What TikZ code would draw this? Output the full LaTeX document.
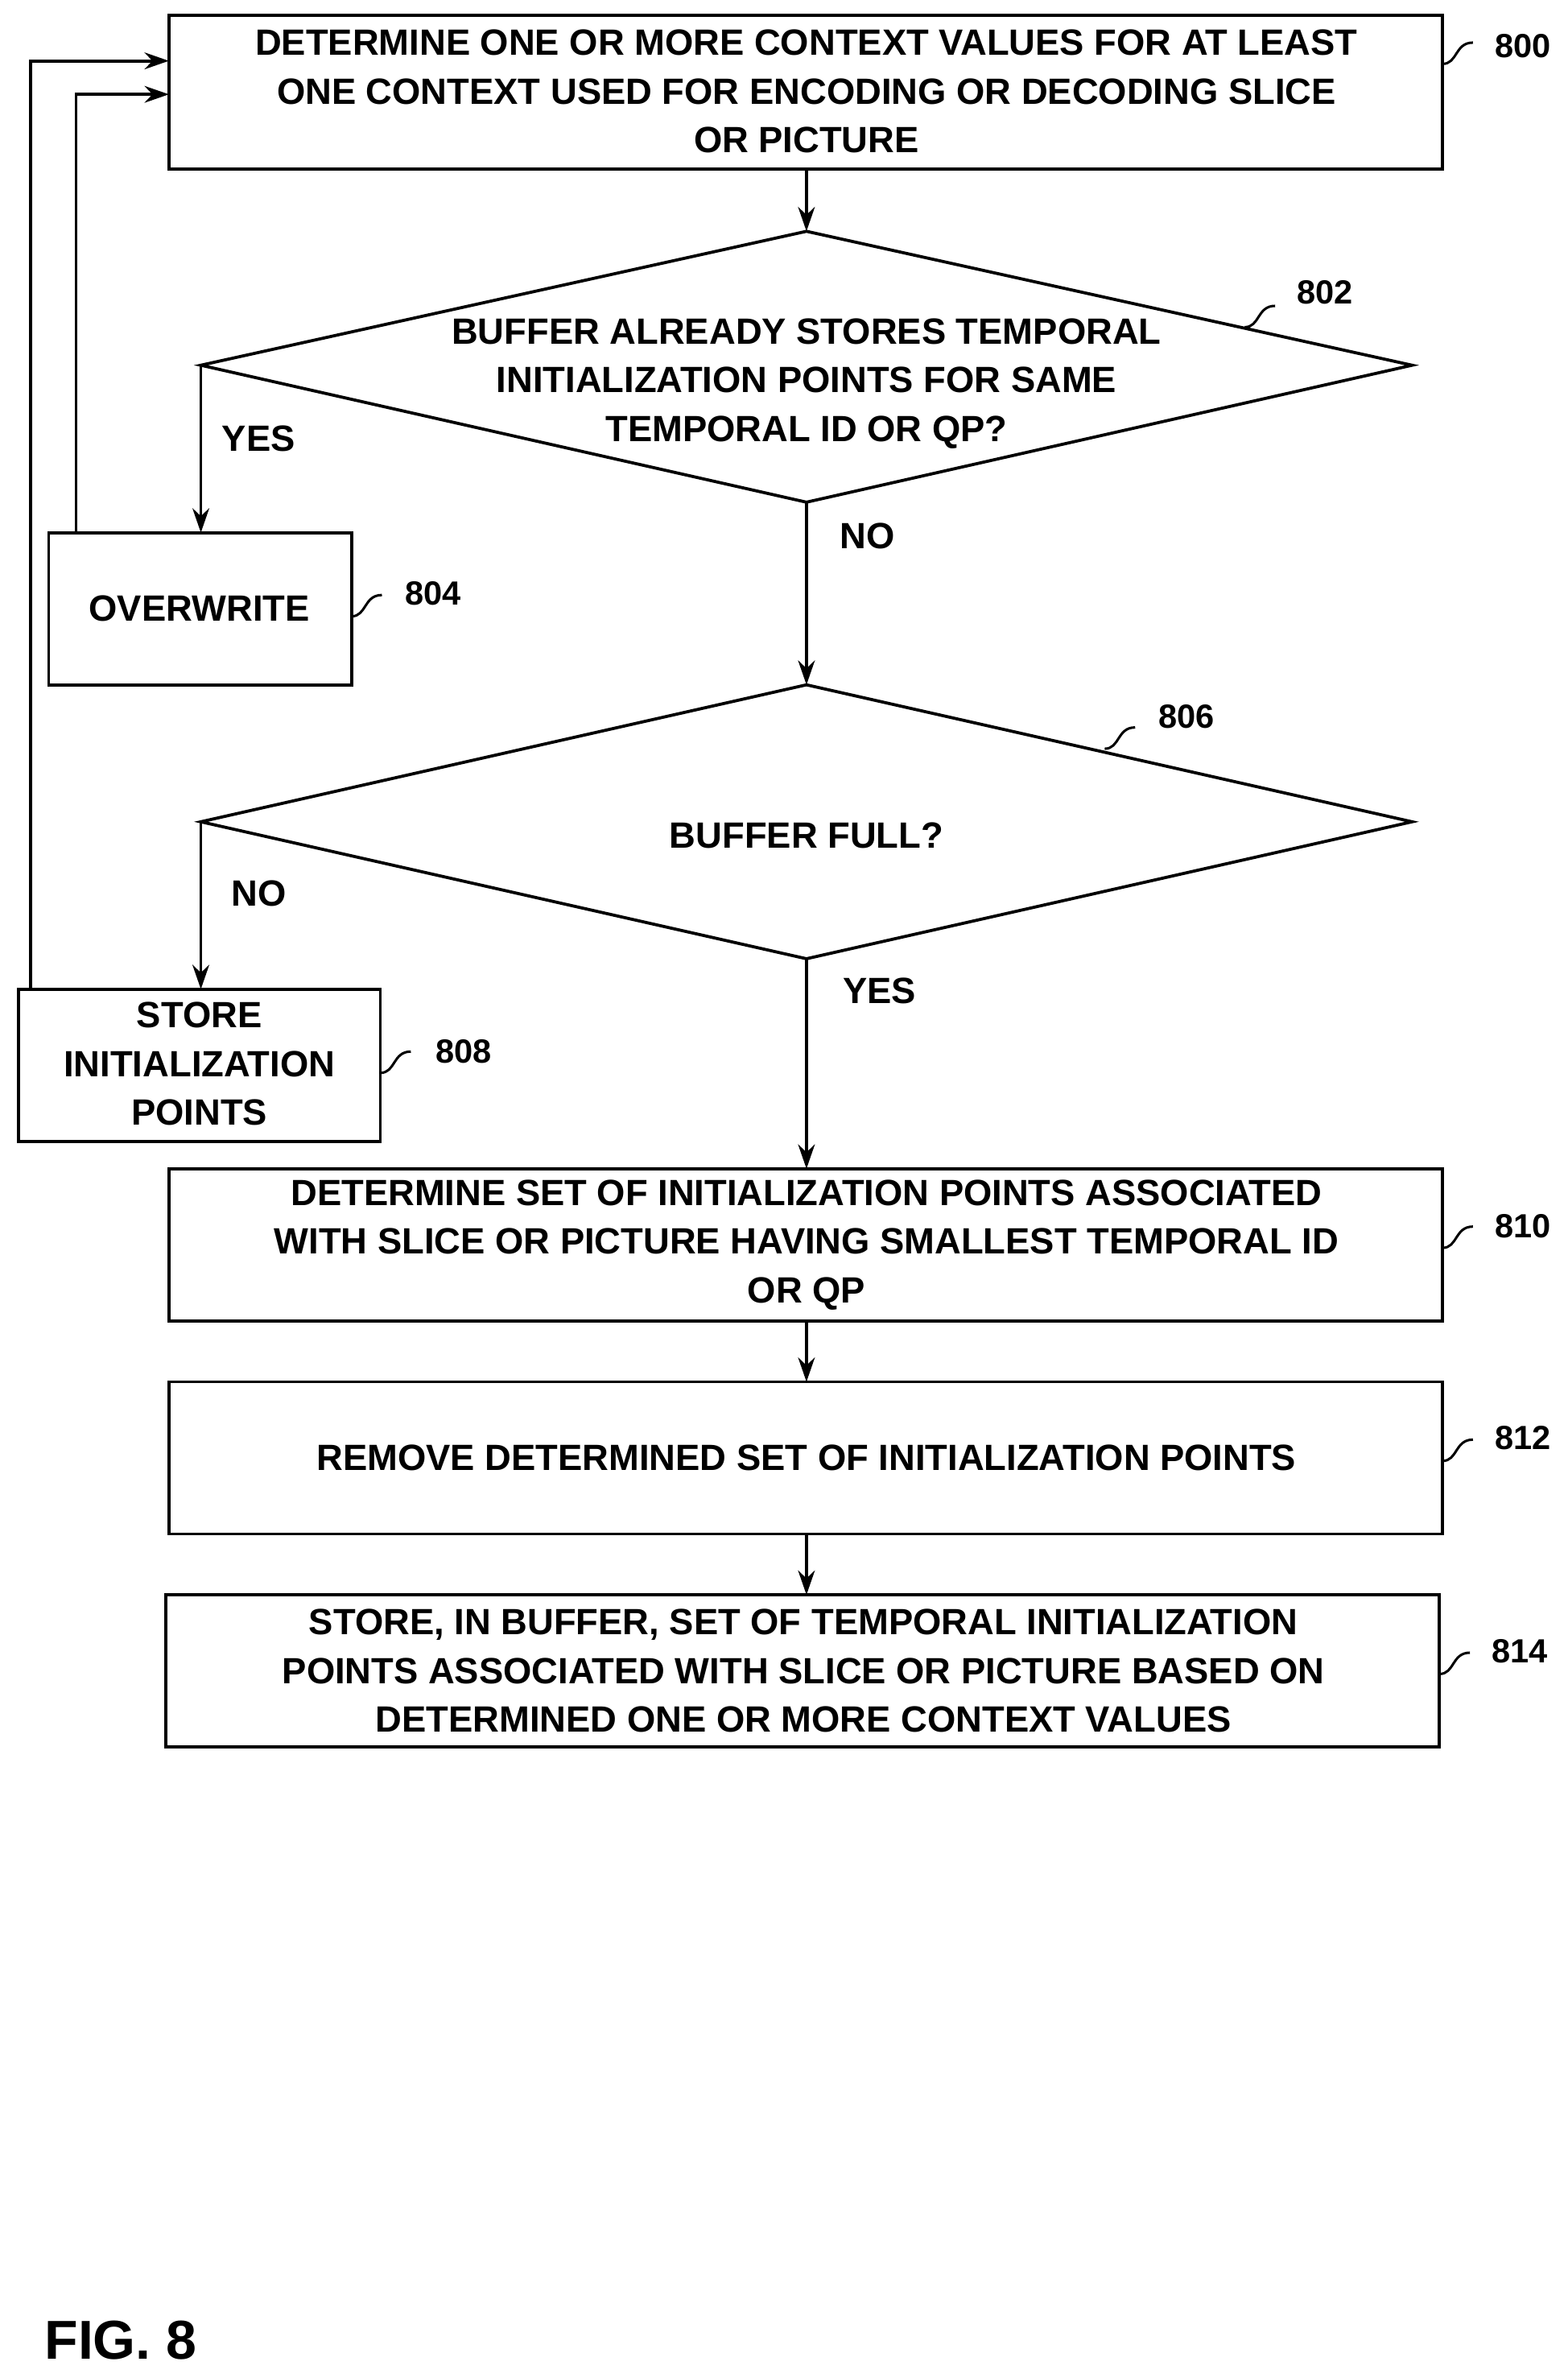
\documentclass[tikz,border=0pt]{standalone}
\usepackage{fontspec}
\setmainfont{Liberation Sans}
\usetikzlibrary{arrows.meta}
\begin{document}
\begin{tikzpicture}[x=1pt,y=-1pt,
  line width=2pt,
  txt/.style={font=\fontsize{24}{32}\selectfont\bfseries,align=center},
  lbl/.style={font=\fontsize{22}{26}\selectfont\bfseries,anchor=west},
  arr/.style={-{Stealth[length=16pt,width=11pt]}}]
\useasboundingbox (0,0) rectangle (1030,1560);
\tikzset{sq/.pic={\draw[line width=1.6pt] (0,0) .. controls (10,0) and (8,-14) .. (20,-14);}}
% boxes
\draw (111,10) rectangle (948,111);
\node[txt] (t800) at (530,60) {DETERMINE ONE OR MORE CONTEXT VALUES FOR AT LEAST\\ONE CONTEXT USED FOR ENCODING OR DECODING SLICE\\OR PICTURE};
\draw (530,152) coordinate (d1t) -- (928,240) coordinate (d1r) -- (530,330) coordinate (d1b) -- (132,240) coordinate (d1l) -- cycle;
\node[txt] (t802) at (530,252) {BUFFER ALREADY STORES TEMPORAL\\INITIALIZATION POINTS FOR SAME\\TEMPORAL ID OR QP?};
\draw (32,350) rectangle (231,450);
\node[txt] (t804) at (131,400) {OVERWRITE};
\draw (530,450) coordinate (d2t) -- (928,540) coordinate (d2r) -- (530,630) coordinate (d2b) -- (132,540) coordinate (d2l) -- cycle;
\node[txt] (t806) at (530,549) {BUFFER FULL?};
\draw (12,650) rectangle (250,750);
\node[txt] (t808) at (131,699) {STORE\\INITIALIZATION\\POINTS};
\draw (111,768) rectangle (948,868);
\node[txt] (t810) at (530,818) {DETERMINE SET OF INITIALIZATION POINTS ASSOCIATED\\WITH SLICE OR PICTURE HAVING SMALLEST TEMPORAL ID\\OR QP};
\draw (111,908) rectangle (948,1008);
\node[txt] (t812) at (530,958) {REMOVE DETERMINED SET OF INITIALIZATION POINTS};
\draw (109,1048) rectangle (946,1148);
\node[txt] (t814) at (528,1098) {STORE, IN BUFFER, SET OF TEMPORAL INITIALIZATION\\POINTS ASSOCIATED WITH SLICE OR PICTURE BASED ON\\DETERMINED ONE OR MORE CONTEXT VALUES};
% connectors
\draw[arr] (530,111) -- (d1t);
\draw[arr] (d1l) -- (132,350);
\draw[arr] (d1b) -- (d2t);
\draw[arr] (d2l) -- (132,650);
\draw[arr] (d2b) -- (530,768);
\draw[arr] (530,868) -- (530,908);
\draw[arr] (530,1008) -- (530,1048);
\draw[arr] (50,350) -- (50,62) -- (111,62);
\draw[arr] (20,650) -- (20,40) -- (111,40);
% branch labels
\node[txt] at (170,288) {YES};
\node[txt] at (570,352) {NO};
\node[txt] at (170,587) {NO};
\node[txt] at (578,651) {YES};
% reference labels
\pic at (948,42) {sq}; \node[lbl] at (978,30) {800};
\pic at (818,215) {sq}; \node[lbl] at (848,192) {802};
\pic at (231,405) {sq}; \node[lbl] at (262,390) {804};
\pic at (726,492) {sq}; \node[lbl] at (757,471) {806};
\pic at (250,705) {sq}; \node[lbl] at (282,691) {808};
\pic at (948,820) {sq}; \node[lbl] at (978,806) {810};
\pic at (948,960) {sq}; \node[lbl] at (978,945) {812};
\pic at (946,1100) {sq}; \node[lbl] at (976,1085) {814};
\node[font=\fontsize{36}{40}\selectfont\bfseries,anchor=west] at (25,1538) {FIG. 8};
\end{tikzpicture}
\end{document}
